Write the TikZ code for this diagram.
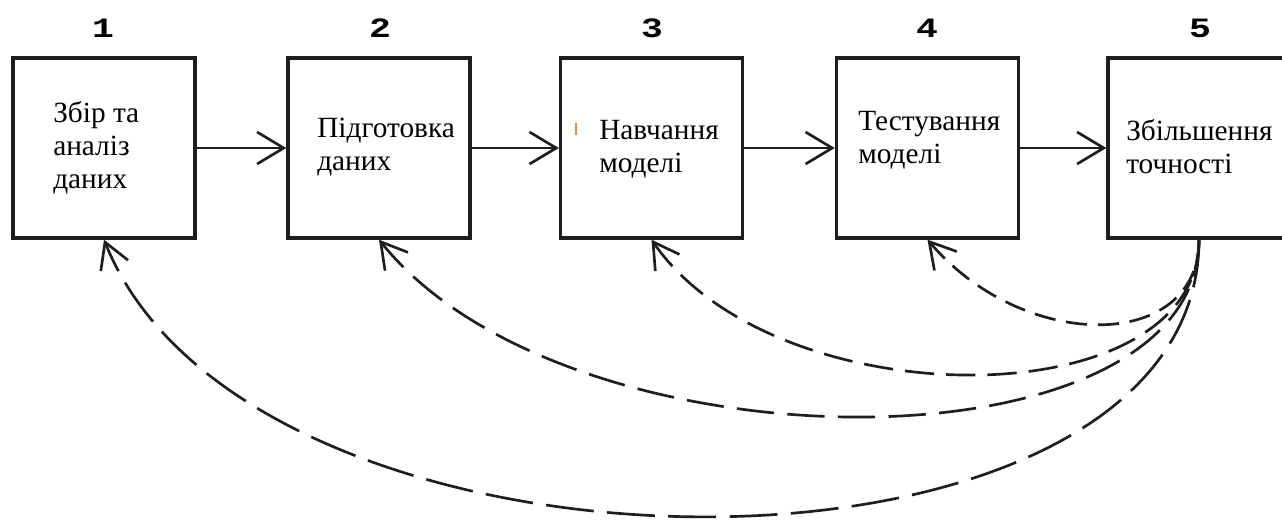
\documentclass[tikz,border=0pt]{standalone}
\usepackage{fontspec}
\setmainfont{Liberation Serif}
\newfontfamily\numfont{Liberation Mono}
\usetikzlibrary{arrows.meta}
\definecolor{tickc}{RGB}{226,140,72}
\definecolor{ink}{RGB}{30,30,30}
\begin{document}
\begin{tikzpicture}[x=0.75pt,y=-0.75pt,
  box/.style={draw=ink, line width=2.5pt, minimum width=136.5pt, minimum height=135pt, inner sep=0pt},
  lbl/.style={anchor=base west, align=left, inner sep=0pt, font=\fontsize{22}{24.5}\selectfont},
  num/.style={inner sep=0pt, font=\numfont\bfseries\fontsize{21}{21}\selectfont},
  tipb/.style={-{Straight Barb[length=20pt,width=24pt]}},
  harrow/.style={draw=ink, line width=2pt, tipb},
  fb/.style={draw=ink, line width=2pt, -{Straight Barb[length=19pt,width=22pt]}},
]
\fill[white] (0,0) rectangle (1282,522);
\useasboundingbox (0,0) rectangle (1282,522);
\clip (0,0) rectangle (1282,522);

% boxes
\node[box] (n1) at (104,148) {};
\node[box] (n2) at (379,148) {};
\node[box] (n3) at (651.5,148) {};
\node[box] (n4) at (927.5,148) {};
\node[box] (n5) at (1199,148) {};

% step numbers
\node[num] (k1) at (103,28) {\scalebox{1.3}[1]{1}};
\node[num] (k2) at (380,28) {\scalebox{1.3}[1]{2}};
\node[num] (k3) at (652,28) {\scalebox{1.3}[1]{3}};
\node[num] (k4) at (927,28) {\scalebox{1.3}[1]{4}};
\node[num] (k5) at (1200,28) {\scalebox{1.3}[1]{5}};

% labels (base anchor = baseline of the last line)
\node[lbl] (t1) at (53,188) {Збір та\\аналіз\\даних};
\node[lbl] (t2) at (317,170) {Підготовка\\даних};
\node[lbl] (t3) at (599,172) {Навчання\\моделі};
\node[lbl] (t4) at (858,163) {Тестування\\моделі};
\node[lbl] (t5) at (1126,173) {Збільшення\\точності};

% stray orange tick
\draw[tickc, line width=1.4pt] (576,123) -- (576,135);

% forward arrows
\draw[harrow] (n1.east) -- (n2.west);
\draw[harrow] (n2.east) -- (n3.west);
\draw[harrow] (n3.east) -- (n4.west);
\draw[harrow] (n4.east) -- (n5.west);

% feedback arrows
\draw[fb, dash pattern=on 16pt off 8pt] (n5.south) .. controls +(0,113) and +(96,113) .. (n4.south);
\draw[fb, dash pattern=on 22pt off 9pt] (n5.south) .. controls +(0,180) and +(124,180) .. (n3.south);
\draw[fb, dash pattern=on 28pt off 10pt] (n5.south) .. controls +(0,236) and +(189,236) .. (n2.south);
\draw[fb, dash pattern=on 36pt off 10pt] (n5.south) .. controls +(0,369) and +(148,369) .. (n1.south);
\end{tikzpicture}
\end{document}
